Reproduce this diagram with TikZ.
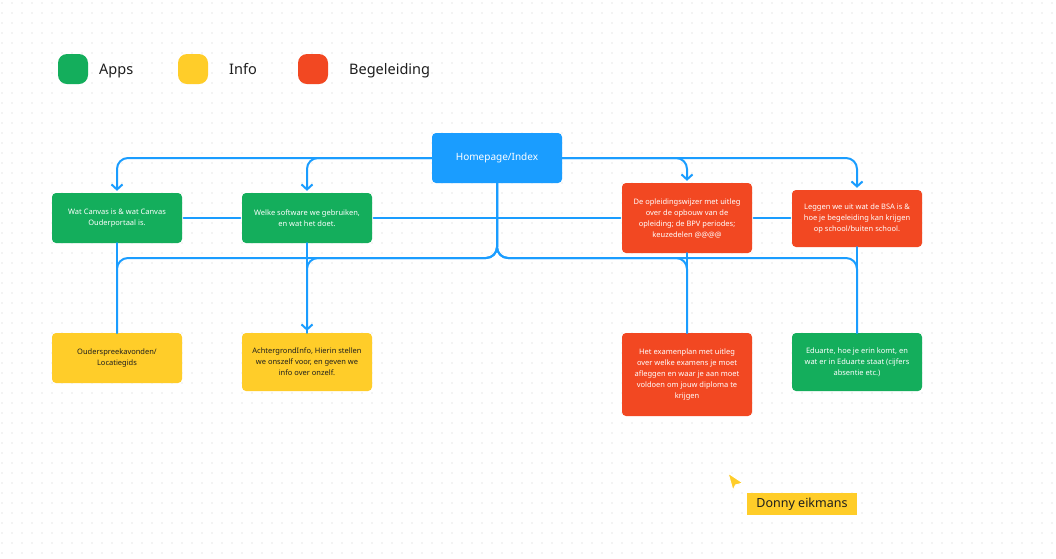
\documentclass[tikz,border=0pt]{standalone}
\usepackage{fontspec}
\setmainfont{Noto Sans}
\usetikzlibrary{arrows.meta}

\definecolor{appgreen}{HTML}{14AE5C}
\definecolor{infoyellow}{HTML}{FFCD29}
\definecolor{guidered}{HTML}{F24822}
\definecolor{linkblue}{HTML}{1A9DFF}
\definecolor{darktext}{HTML}{1E1E1E}
\definecolor{griddot}{HTML}{CCCCCC}

\tikzset{
  card/.style={rectangle, rounded corners=4pt, minimum width=130pt, align=center,
    inner sep=0pt, font=\fontsize{7.5}{11}\selectfont, text=white},
  appcard/.style={card, fill=appgreen},
  infocard/.style={card, fill=infoyellow, text=darktext},
  guidecard/.style={card, fill=guidered},
  swatch/.style={rectangle, rounded corners=9pt, minimum size=30pt, inner sep=0pt},
  legendtext/.style={anchor=base west, inner sep=0pt, text=darktext, font=\fontsize{14.5}{16}\selectfont},
  link/.style={draw=linkblue, line width=2pt, line cap=round, rounded corners=11pt},
  linkarrow/.style={link, -{Straight Barb[length=5pt,width=11pt]}, shorten >=2pt},
}

\begin{document}
\begin{tikzpicture}[x=1pt, y=-1pt]
  % canvas and dotted grid
  \fill[white] (0,0) rectangle (1056,558);
  \useasboundingbox (0,0) rectangle (1056,558);
  \foreach \gx in {2,12,...,1052}
    \foreach \gy in {3,13,...,553}
      \fill[griddot] (\gx,\gy) circle (0.55pt);

  % legend
  \node[swatch, fill=appgreen] (keyapps) at (73,69) {};
  \node[legendtext] (lblapps) at (99,74.5) {Apps};
  \node[swatch, fill=infoyellow] (keyinfo) at (193,69) {};
  \node[legendtext] (lblinfo) at (229,74.5) {Info};
  \node[swatch, fill=guidered] (keyguide) at (313,69) {};
  \node[legendtext] (lblguide) at (349,74.5) {Begeleiding};

  % home node
  \node[card, fill=linkblue, minimum height=50pt, font=\fontsize{10}{12}\selectfont]
    (home) at (497,158) {Homepage/Index};

  % first row
  \node[appcard, minimum height=50pt] (canvas) at (117,218)
    {Wat Canvas is \& wat Canvas\\Ouderportaal is.};
  \node[appcard, minimum height=50pt] (software) at (307,218)
    {Welke software we gebruiken,\\en wat het doet.};
  \node[guidecard, minimum height=70pt] (wijzer) at (687,218)
    {De opleidingswijzer met uitleg\\over de opbouw van de\\opleiding; de BPV periodes;\\keuzedelen @@@@};
  \node[guidecard, minimum height=57pt] (bsa) at (857,218.5)
    {Leggen we uit wat de BSA is \&\\hoe je begeleiding kan krijgen\\op school/buiten school.};

  % second row
  \node[infocard, minimum height=50pt] (avonden) at (117,358)
    {Ouderspreekavonden/\\Locatiegids};
  \node[infocard, minimum height=58pt] (achtergrond) at (307,362)
    {AchtergrondInfo, Hierin stellen\\we onszelf voor, en geven we\\info over onzelf.};
  \node[guidecard, minimum height=83pt] (examen) at (687,374.5)
    {Het examenplan met uitleg\\over welke examens je moet\\afleggen en waar je aan moet\\voldoen om jouw diploma te\\krijgen};
  \node[appcard, minimum height=58pt] (eduarte) at (857,362)
    {Eduarte, hoe je erin komt, en\\wat er in Eduarte staat (cijfers\\absentie etc.)};

  % branching point below the home node
  \coordinate (hub) at (497,258);

  % home to the first row
  \draw[linkarrow] (home.west) -| (canvas.north);
  \draw[linkarrow] (home.west) -| (software.north);
  \draw[linkarrow] (home.east) -| (wijzer.north);
  \draw[linkarrow] (home.east) -| (bsa.north);

  % home to the second row
  \draw[link] (home.south) -- (hub) -| (avonden.north);
  \draw[linkarrow] (home.south) -- (hub) -| (achtergrond.north);
  \draw[link] (home.south) -- (hub) -| (examen.north);
  \draw[link] (home.south) -- (hub) -| (eduarte.north);

  % vertical links between the rows
  \draw[link] (canvas.south) -- (avonden.north);
  \draw[link] (software.south) -- (achtergrond.north);
  \draw[link] (wijzer.south) -- (examen.north);
  \draw[link] (bsa.south) -- (eduarte.north);

  % horizontal links along the first row
  \draw[link, shorten <=1.5pt, shorten >=1.5pt] (canvas.east) -- (software.west);
  \draw[link, shorten <=1.5pt, shorten >=1.5pt] (software.east) -- (wijzer.west);
  \draw[link, shorten <=1.5pt, shorten >=1.5pt] (wijzer.east) -- (wijzer.east -| bsa.west);

  % collaborator cursor
  \coordinate (tip) at (728,473);
  \filldraw[fill=infoyellow, draw=white, line width=1pt, line join=round]
    (tip) -- (743,483) -- (735.5,485) -- (733,490.5) -- cycle;
  \node[fill=infoyellow, minimum width=110pt, minimum height=22pt, inner sep=0pt,
    text=darktext, font=\fontsize{12.5}{14}\selectfont] (donny) at (802,504) {Donny eikmans};
\end{tikzpicture}
\end{document}
